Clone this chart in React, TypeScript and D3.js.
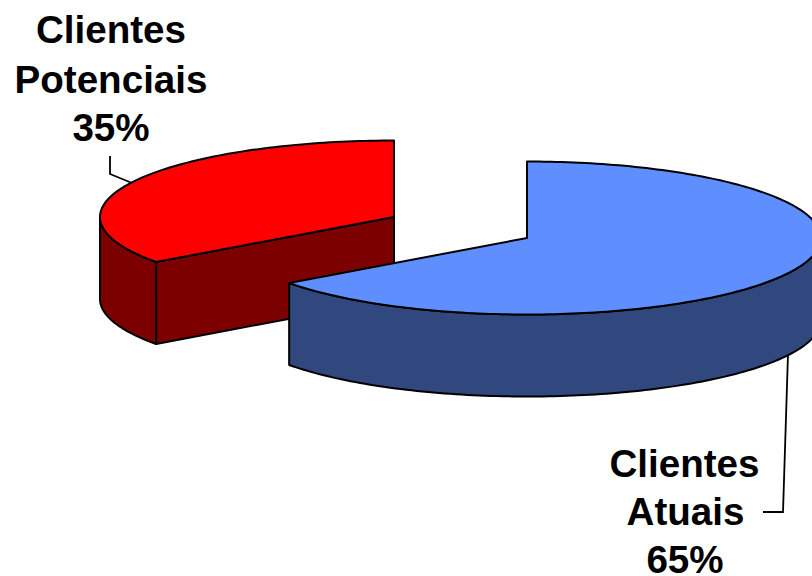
import React from "react";
import * as d3 from "d3";

const categories = ["Clientes Atuais", "Clientes Potenciais"];
const shares = [65, 35];
const percentLabels = ["65%", "35%"];
const topColors = ["#5f8fff", "#ff0000"];
const sideColors = ["#30487e", "#7d0000"];

const W = 812, H = 576;
const RX = 294, RY = 76.5, DEPTH = 82;
const centers = [{ x: 527, y: 238 }, { x: 394, y: 217 }];

const arcs = d3.pie<number>().value((d) => d).sort(null)(shares);
const sx = d3.scaleLinear().domain([-1, 1]).range([-RX, RX]);
const sy = d3.scaleLinear().domain([-1, 1]).range([-RY, RY]);

function rim(cx: number, cy: number, a0: number, a1: number): [number, number][] {
  const n = Math.max(2, Math.ceil(Math.abs(a1 - a0) / 0.02));
  return d3.range(n + 1).map((i) => {
    const a = a0 + ((a1 - a0) * i) / n;
    return [cx + sx(Math.sin(a)), cy + sy(-Math.cos(a))] as [number, number];
  });
}
const line = d3.line();
const path = (pts: [number, number][]) => line(pts)! + "Z";

function Slice({ i }: { i: number }) {
  const { startAngle: a0, endAngle: a1 } = arcs[i];
  const c = centers[i];
  const top = [[c.x, c.y] as [number, number], ...rim(c.x, c.y, a0, a1)];
  // outer wall: visible part lies between 90deg and 270deg
  const w0 = Math.max(a0, Math.PI / 2), w1 = Math.min(a1, (3 * Math.PI) / 2);
  const upper = rim(c.x, c.y, w0, w1);
  const wall = [...upper, ...upper.slice().reverse().map(([x, y]) => [x, y + DEPTH] as [number, number])];
  // cut wall for the radial edge facing the viewer
  const edgeA = i === 0 ? a1 : a0;
  const e = rim(c.x, c.y, edgeA, edgeA)[0];
  const cut: [number, number][] = [[c.x, c.y], e, [e[0], e[1] + DEPTH], [c.x, c.y + DEPTH]];
  const st = { stroke: "#000", strokeWidth: 2, strokeLinejoin: "round" as const };
  return (
    <g>
      {i === 1 && <path d={path(cut)} fill={sideColors[i]} {...st} />}
      <path d={path(wall)} fill={sideColors[i]} {...st} />
      <path d={path(top)} fill={topColors[i]} {...st} />
    </g>
  );
}

const textStyle = {
  fontFamily: "'Liberation Sans', Arial, sans-serif",
  fontWeight: 700,
  fontSize: 38.6,
  fill: "#000",
  textAnchor: "middle" as const,
};

export default function App() {
  const [nameA1, nameA2] = categories[0].split(" ");
  const [nameP1, nameP2] = categories[1].split(" ");
  return (
    <svg width={W} height={H} viewBox={`0 0 ${W} ${H}`} style={{ position: "absolute", left: 0, top: 0, background: "#fff" }}>
      <Slice i={1} />
      <Slice i={0} />
      <path d="M110,156 V174 L132,183" fill="none" stroke="#000" strokeWidth={1.8} />
      <path d="M788,354 L783,512 H763" fill="none" stroke="#000" strokeWidth={1.8} />
      <g style={textStyle as any}>
        <text x={111} y={43}>{nameP1}</text>
        <text x={111} y={93}>{nameP2}</text>
        <text x={111} y={141}>{percentLabels[1]}</text>
        <text x={684.5} y={476.5}>{nameA1}</text>
        <text x={685.5} y={524.5}>{nameA2}</text>
        <text x={685} y={573}>{percentLabels[0]}</text>
      </g>
    </svg>
  );
}
